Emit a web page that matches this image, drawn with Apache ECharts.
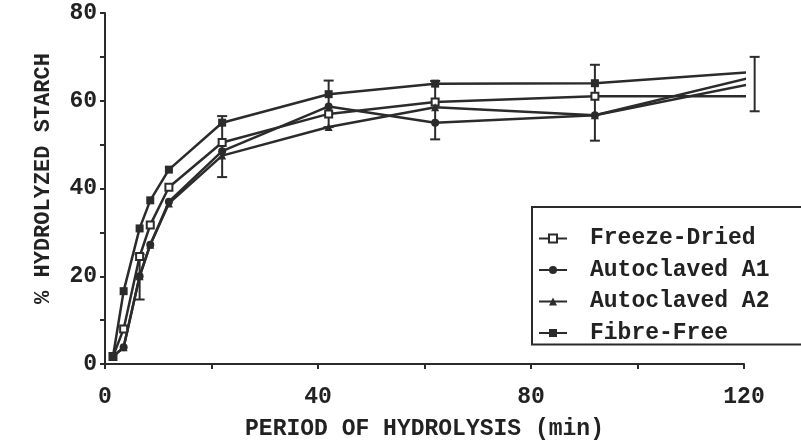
<!DOCTYPE html>
<html>
<head>
<meta charset="utf-8">
<script src="https://cdn.jsdelivr.net/npm/echarts@6/dist/echarts.min.js"></script>
<style>
html,body{margin:0;padding:0;background:#fff;}
#chart{width:801px;height:446px;}
</style>
</head>
<body>
<div id="chart"></div>
<script>
// sampling times (min)
var times = [1.5, 3.5, 6.5, 8.5, 12, 22, 42, 62, 92, 122];
// % hydrolyzed starch
var freezeDried = [1.7, 8, 24.5, 31.7, 40.3, 50.5, 57.0, 59.7, 61.0, 61.0];
var autoA1 = [1.7, 3.8, 20, 27.2, 37, 48.5, 58.7, 55.0, 56.7, 64.0];
var autoA2 = [1.7, 3.8, 20, 27.2, 36.6, 47.5, 54.0, 58.5, 56.7, 65.5];
var fibreFree = [1.7, 16.6, 30.9, 37.3, 44.3, 55.0, 61.5, 63.9, 64.0, 66.6];
// error bars
var errTimes = [6.5, 22, 42, 62, 92, 122];
var errLow = [14.7, 42.6, 54.0, 51.2, 50.9, 57.6];
var errHigh = [25.0, 56.5, 64.6, 64.5, 68.2, 70.0];

var seriesNames = ['Freeze-Dried', 'Autoclaved A1', 'Autoclaved A2', 'Fibre-Free'];
var seriesData = [freezeDried, autoA1, autoA2, fibreFree];
var symbols = ['emptyRect', 'circle', 'triangle', 'rect'];
var sizes = [7, 8, 8, 8];

var ink = '#2b2b2b';
var font = '"Liberation Mono", "DejaVu Sans Mono", monospace';

function pairs(xs, ys){
	var out = [];
	for(var i=0;i<xs.length;i++){
		out.push([xs[i], ys[i]]);
	}
	return out;
}

var series = [];
for(var i=0;i<seriesNames.length;i++){
	series.push({
		name: seriesNames[i],
		type: 'line',
		data: pairs(times, seriesData[i]),
		symbol: symbols[i],
		symbolSize: sizes[i],
		color: ink,
		lineStyle: {color: ink, width: 2.5},
		itemStyle: {color: ink, borderWidth: 1.5},
		z: 3
	});
}

var errData = [];
for(var i=0;i<errTimes.length;i++){
	errData.push([errTimes[i], errLow[i], errHigh[i]]);
}
series.push({
	type: 'custom',
	data: errData,
	z: 2,
	renderItem: function(params, api){
		var lo = api.coord([api.value(0), api.value(1)]);
		var hi = api.coord([api.value(0), api.value(2)]);
		var w = 5;
		var style = {stroke: ink, lineWidth: 2};
		return {
			type: 'group',
			children: [
				{type: 'line', shape: {x1: lo[0], y1: lo[1], x2: hi[0], y2: hi[1]}, style: style},
				{type: 'line', shape: {x1: lo[0]-w, y1: lo[1], x2: lo[0]+w, y2: lo[1]}, style: style},
				{type: 'line', shape: {x1: hi[0]-w, y1: hi[1], x2: hi[0]+w, y2: hi[1]}, style: style}
			]
		};
	}
});

var mychart = echarts.init(document.getElementById('chart'));
var option = {
	animation: false,
	backgroundColor: '#fff',
	grid: {left: 105, right: 57, top: 13, bottom: 79},
	legend: {
		data: seriesNames,
		orient: 'vertical',
		left: 532,
		top: 207,
		padding: [20, 40, 0, 6],
		itemGap: 8.5,
		itemWidth: 28,
		itemHeight: 10,
		borderColor: ink,
		borderWidth: 2,
		backgroundColor: '#fff',
		textStyle: {fontFamily: font, fontWeight: 'bold', fontSize: 23, color: '#222', padding: [0, 0, 0, 18]}
	},
	xAxis: {
		type: 'value',
		min: 0,
		max: 120,
		interval: 40,
		name: 'PERIOD OF HYDROLYSIS (min)',
		nameLocation: 'middle',
		nameGap: 54,
		nameTextStyle: {fontFamily: font, fontWeight: 'bold', fontSize: 23, color: '#222'},
		axisLine: {lineStyle: {color: ink, width: 2}},
		axisTick: {show: true, length: 5, lineStyle: {color: ink, width: 2}},
		minorTick: {show: true, splitNumber: 2, length: 5, lineStyle: {color: ink, width: 2}},
		splitLine: {show: false},
		axisLabel: {fontFamily: font, fontWeight: 'bold', fontSize: 23, color: '#222', margin: 22}
	},
	yAxis: {
		type: 'value',
		min: 0,
		max: 80,
		interval: 20,
		name: '% HYDROLYZED STARCH',
		nameLocation: 'middle',
		nameGap: 51,
		nameTextStyle: {fontFamily: font, fontWeight: 'bold', fontSize: 22, color: '#222', padding: [0, 0, 0, 20]},
		axisLine: {show: true, lineStyle: {color: ink, width: 2}},
		axisTick: {show: true, length: 5, lineStyle: {color: ink, width: 2}},
		minorTick: {show: true, splitNumber: 2, length: 5, lineStyle: {color: ink, width: 2}},
		splitLine: {show: false},
		axisLabel: {fontFamily: font, fontWeight: 'bold', fontSize: 23, color: '#222', margin: 8}
	},
	series: series
};
mychart.setOption(option);
</script>
</body>
</html>
